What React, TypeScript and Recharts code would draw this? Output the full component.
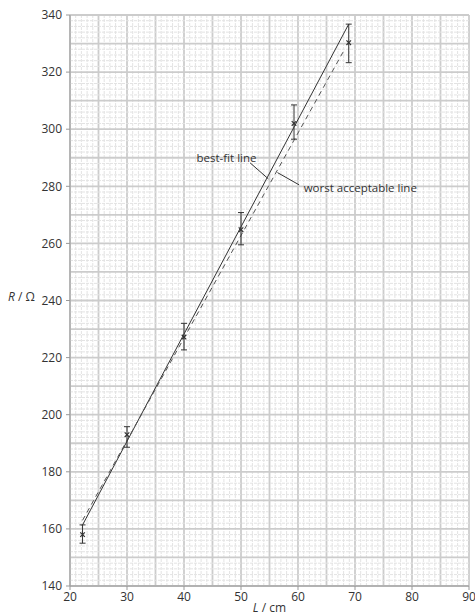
import {
  ComposedChart,
  XAxis,
  YAxis,
  Line,
  Scatter,
  ErrorBar,
  ReferenceLine,
  ReferenceDot,
} from 'recharts';

// measured points (L in cm, R in ohm) with lower / upper uncertainty
const lengths = [22.2, 30, 40, 50, 59.3, 68.9];
const resistances = [158, 193, 227.2, 264.8, 302, 330.3];
const errLow = [3, 4.4, 4.5, 5.3, 5.5, 7];
const errHigh = [3.4, 2.8, 4.8, 6, 6.5, 6.5];

// line end points
const bestFitL = [22.1, 68.9];
const bestFitR = [161, 336.8];
const worstL = [22.2, 67.9];
const worstR = [163, 327];

const xTicks = [20, 30, 40, 50, 60, 70, 80, 90];
const yTicks = [140, 160, 180, 200, 220, 240, 260, 280, 300, 320, 340];

const points = lengths.map((l, i) => ({ l, r: resistances[i], err: [errLow[i], errHigh[i]] }));
const bestFit = bestFitL.map((l, i) => ({ l, r: bestFitR[i] }));
const worst = worstL.map((l, i) => ({ l, r: worstR[i] }));

// graph paper: 1 cm x 2 ohm squares, darker every 5 squares
const gridX = Array.from({ length: 71 }, (_, i) => 20 + i);
const gridY = Array.from({ length: 101 }, (_, i) => 140 + i * 2);

const FONT = '"Open Sans", sans-serif';
const INK = '#333';

const Cross = (props: any) => {
  const { cx, cy } = props;
  const s = 2.3;
  return (
    <g stroke={INK} strokeWidth={1.2}>
      <line x1={cx - s} y1={cy - s} x2={cx + s} y2={cy + s} />
      <line x1={cx - s} y1={cy + s} x2={cx + s} y2={cy - s} />
    </g>
  );
};

const noteLabel = (text: string) => (props: any) => {
  const { viewBox } = props;
  return (
    <text x={viewBox.x} y={viewBox.y} dy="0.35em" fontFamily={FONT} fontSize={11.5} fill={INK}>
      {text}
    </text>
  );
};

export default function App() {
  return (
    <div style={{ position: 'absolute', left: 0, top: 0, background: '#fff' }}>
      <ComposedChart width={475} height={616} margin={{ top: 15, right: 6, bottom: 0, left: 0 }}>
        <XAxis
          dataKey="l"
          type="number"
          domain={[20, 90]}
          ticks={xTicks}
          allowDataOverflow
          height={30}
          tickSize={4}
          tickMargin={2}
          stroke="#999"
          tick={{ fill: INK, fontFamily: FONT, fontSize: 12 }}
          label={(props: any) => {
            const vb = props.viewBox;
            return (
              <text x={vb.x + vb.width / 2} y={612} textAnchor="middle" fontFamily={FONT} fontSize={12} fill={INK}>
                <tspan fontStyle="italic">L</tspan> / cm
              </text>
            );
          }}
        />
        <YAxis
          dataKey="r"
          type="number"
          domain={[140, 340]}
          ticks={yTicks}
          allowDataOverflow
          width={70}
          tickSize={4}
          tickMargin={4}
          stroke="#999"
          tick={{ fill: INK, fontFamily: FONT, fontSize: 12 }}
          label={() => (
            <text x={8} y={297} dy="0.35em" fontFamily={FONT} fontSize={12} fill={INK}>
              <tspan fontStyle="italic">R</tspan> / Ω
            </text>
          )}
        />

        {gridX.map((v) => (
          <ReferenceLine
            key={'gx' + v}
            x={v}
            stroke={v % 5 === 0 ? '#cccccc' : '#e3e3e3'}
            strokeWidth={v % 5 === 0 ? 1.8 : 1}
            strokeDasharray={v % 5 === 0 ? undefined : '3 1'}
          />
        ))}
        {gridY.map((v) => (
          <ReferenceLine
            key={'gy' + v}
            y={v}
            stroke={v % 10 === 0 ? '#cccccc' : '#e3e3e3'}
            strokeWidth={v % 10 === 0 ? 1.8 : 1}
            strokeDasharray={v % 10 === 0 ? undefined : '3 1'}
          />
        ))}

        <Line
          data={bestFit}
          dataKey="r"
          type="linear"
          stroke={INK}
          strokeWidth={1}
          dot={false}
          isAnimationActive={false}
        />
        <Line
          data={worst}
          dataKey="r"
          type="linear"
          stroke="#555"
          strokeWidth={1}
          strokeDasharray="5 4"
          dot={false}
          isAnimationActive={false}
        />
        <Scatter data={points} dataKey="r" shape={Cross} isAnimationActive={false}>
          <ErrorBar dataKey="err" direction="y" width={3} stroke={INK} strokeWidth={1} isAnimationActive={false} />
        </Scatter>

        <ReferenceLine segment={[{ x: 51.6, y: 288.2 }, { x: 54.8, y: 282.6 }]} stroke={INK} strokeWidth={1} />
        <ReferenceLine segment={[{ x: 56.4, y: 284.8 }, { x: 60.2, y: 280.5 }]} stroke={INK} strokeWidth={1} />
        <ReferenceDot x={42.2} y={290} r={0} stroke="none" fill="none" label={noteLabel('best-fit line')} />
        <ReferenceDot x={61} y={279.4} r={0} stroke="none" fill="none" label={noteLabel('worst acceptable line')} />
      </ComposedChart>
    </div>
  );
}
